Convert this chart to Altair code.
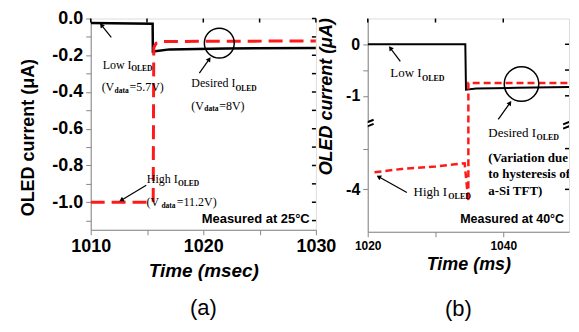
import altair as alt
import pandas as pd

# ---------------- data: panel (a) ----------------
a_black_t = [1010, 1015.5, 1015.52, 1017, 1022, 1030]
a_black_v = [-0.025, -0.028, -0.18, -0.168, -0.163, -0.16]
a_red_t = [1010, 1015.55, 1015.6, 1015.8, 1016.3, 1030]
a_red_v = [-1.0, -1.0, -0.16, -0.135, -0.125, -0.122]

a_xticks = [1010, 1015, 1020, 1025, 1030]
a_yticks = [0.0, -0.1, -0.2, -0.3, -0.4, -0.5, -0.6, -0.7, -0.8, -0.9, -1.0, -1.1]

a_main_txt = ["Low I", "(V", "=5.7V)", "Desired I", "(V", "=8V)", "High I", "(V", "=11.2V)"]
a_main_t = [1011.06, 1010.97, 1013.45, 1018.94, 1018.94, 1021.42, 1014.98, 1014.96, 1017.65]
a_main_v = [-0.255, -0.374, -0.374, -0.353, -0.474, -0.474, -0.872, -0.998, -0.998]
a_sub_txt = ["OLED", "data", "OLED", "data", "OLED", "data"]
a_sub_t = [1013.6, 1012.12, 1022.85, 1020.09, 1017.75, 1016.28]
a_sub_v = [-0.277, -0.396, -0.383, -0.494, -0.902, -1.02]

a_arrow_t = [1011.83, 1019.65, 1014.93]
a_arrow_v = [-0.103, -0.297, -0.9075]
a_arrow_t2 = [1010.95, 1020.53, 1012.72]
a_arrow_v2 = [-0.036, -0.221, -0.989]
a_arrow_ang = [321, 35, 239]

a_circle_t = [1021.42]
a_circle_v = [-0.134]
a_note = ["Measured at 25°C"]
a_note_t = [1029.45]
a_note_v = [-1.089]

# ---------------- data: panel (b) ----------------
b_black_t = [1020, 1034.4, 1034.5, 1036, 1042, 1049.7]
b_black_v = [0.0, 0.0, -0.88, -0.86, -0.845, -0.83]
b_red_t = [1021, 1025, 1030, 1034.3, 1034.85, 1034.85, 1049.7]
b_red_v = [-3.79, -3.75, -3.72, -3.68, -4.15, -0.75, -0.75]

b_xticks = [1020, 1030, 1040]
b_yticks = [0, -0.5, -1, -3.5, -4]

b_main_txt = ["Low I", "Desired I", "High I"]
b_main_t = [1023.34, 1037.79, 1026.76]
b_main_v = [-0.558, -3.306, -4.038]
b_sub_txt = ["OLED", "OLED", "OLED"]
b_sub_t = [1028.0, 1044.9, 1031.9]
b_sub_v = [-0.666, -3.367, -4.099]
b_bold_txt = ["(Variation due", "to hysteresis of", "a-Si TFT)"]
b_bold_t = [1037.79, 1037.79, 1037.79]
b_bold_v = [-3.611, -3.813, -4.017]

b_arrow_t = [1024.81, 1039.26, 1025.78]
b_arrow_v = [-0.332, -1.459, -4.038]
b_arrow_t2 = [1023.34, 1040.99, 1021.62]
b_arrow_v2 = [-0.074, -1.138, -3.846]
b_arrow_ang = [323, 35, 299]

b_circle_t = [1042.69]
b_circle_v = [-0.771]
b_note = ["Measured at 40°C"]
b_note_t = [1048.97]
b_note_v = [-4.359]
b_break_t = [1020, 1049.7]
b_break_v = [-2.3, -2.3]

SANS = "Liberation Sans"
SERIF = "Liberation Serif"
RED = "#ff1a1a"
BREAK_SHAPE = "M-1,0.05L1,-0.75M-1,0.75L1,-0.05"


def panel(W, H, xs, ys, xaxis, yaxis, black, red, red_dash, red_w, black_w,
          mains, subs, main_size, sub_size, arrows, circle, circ_size, note, note_size,
          xt, yt, extra=None, label=None, label_dx=0, label_off=20):
    X = lambda f: alt.X(f, type="quantitative", scale=xs, axis=xaxis)
    Y = lambda f: alt.Y(f, type="quantitative", scale=ys, axis=yaxis)
    layers = []
    base_df = pd.DataFrame({"t": black[0], "v": black[1]})
    layers.append(alt.Chart(base_df).mark_line(color="black", strokeWidth=black_w, clip=True).encode(
        x=X("t"), y=Y("v")))
    rdf = pd.DataFrame({"t": red[0], "v": red[1], "o": list(range(len(red[0])))})
    layers.append(alt.Chart(rdf).mark_line(color=RED, strokeWidth=red_w, strokeDash=red_dash, clip=True).encode(
        x=X("t"), y=Y("v"), order="o:Q"))
    mdf = pd.DataFrame({"txt": mains[0], "t": mains[1], "v": mains[2]})
    layers.append(alt.Chart(mdf).mark_text(font=SERIF, fontSize=main_size, align="left", baseline="middle",
                                           color="black").encode(x=X("t"), y=Y("v"), text="txt:N"))
    sdf = pd.DataFrame({"txt": subs[0], "t": subs[1], "v": subs[2]})
    layers.append(alt.Chart(sdf).mark_text(font=SERIF, fontSize=sub_size, fontWeight="bold", align="left",
                                           baseline="middle", color="black").encode(x=X("t"), y=Y("v"), text="txt:N"))
    adf = pd.DataFrame({"t": arrows[0], "v": arrows[1], "t2": arrows[2], "v2": arrows[3], "ang": arrows[4]})
    layers.append(alt.Chart(adf).mark_rule(color="black", strokeWidth=1.2).encode(
        x=X("t"), y=Y("v"), x2="t2:Q", y2="v2:Q"))
    layers.append(alt.Chart(adf).mark_point(shape="triangle-up", filled=True, size=28, color="black",
                                            opacity=1).encode(
        x=X("t2"), y=Y("v2"), angle=alt.Angle("ang:Q", scale=None)))
    cdf = pd.DataFrame({"t": circle[0], "v": circle[1]})
    layers.append(alt.Chart(cdf).mark_point(shape="circle", filled=False, size=circ_size, color="black",
                                            strokeWidth=1.5, opacity=1).encode(x=X("t"), y=Y("v")))
    ndf = pd.DataFrame({"txt": note[0], "t": note[1], "v": note[2]})
    layers.append(alt.Chart(ndf).mark_text(font=SANS, fontSize=note_size, fontWeight="bold", align="right",
                                           baseline="middle", color="black").encode(x=X("t"), y=Y("v"), text="txt:N"))
    # inward ticks on top and right frame
    tdf = pd.DataFrame({"t": xt})
    layers.append(alt.Chart(tdf).mark_rule(color="black", strokeWidth=1.5).encode(
        x=X("t"), y=alt.value(0), y2=alt.value(4)))
    ydf = pd.DataFrame({"v": yt})
    layers.append(alt.Chart(ydf).mark_rule(color="black", strokeWidth=1.5).encode(
        y=Y("v"), x=alt.value(W - 4), x2=alt.value(W)))
    if extra is not None:
        layers.extend(extra(X, Y))
    ch = alt.layer(*layers).properties(width=W, height=H)
    if label is not None:
        ch = ch.properties(title=alt.TitleParams(label, orient="bottom", font=SANS, fontSize=22,
                                                 fontWeight="normal", frame="group", anchor="middle",
                                                 offset=label_off, dx=label_dx))
    return ch


# ---------- panel (a) ----------
xa = alt.Scale(domain=[1010, 1030], nice=False, zero=False)
ya = alt.Scale(domain=[-1.15, 0.0], nice=False, zero=False)
xa_axis = alt.Axis(values=a_xticks, format="d", title="Time (msec)", titleFont=SANS, titleFontSize=19,
                   titleFontWeight="bold", titleFontStyle="italic", titlePadding=6,
                   labelFont=SANS, labelFontSize=18, labelFontWeight="bold", labelPadding=3,
                   labelExpr="datum.value % 10 == 0 ? datum.label : ''", grid=False,
                   labelFlush=False)
ya_axis = alt.Axis(values=a_yticks, title="OLED current (μA)", titleFont=SANS, titleFontSize=18,
                   titleFontWeight="bold", titlePadding=14, titleY=119,
                   labelFont=SANS, labelFontSize=18, labelFontWeight="bold", labelPadding=3,
                   labelExpr="abs(round(datum.value*10)) % 2 == 0 ? replace(format(datum.value, '.1f'), '−', '-') : ''",
                   grid=False, labelFlush=False)
left = panel(226, 212, xa, ya, xa_axis, ya_axis,
             (a_black_t, a_black_v), (a_red_t, a_red_v), [14, 7], 3, 2.5,
             (a_main_txt, a_main_t, a_main_v), (a_sub_txt, a_sub_t, a_sub_v), 12, 7.5,
             (a_arrow_t, a_arrow_v, a_arrow_t2, a_arrow_v2, a_arrow_ang),
             (a_circle_t, a_circle_v), 900, (a_note, a_note_t, a_note_v), 13,
             a_xticks, a_yticks, label="(a)", label_off=18)

# ---------- panel (b) ----------
xb = alt.Scale(domain=[1020, 1049.7], nice=False, zero=False)
yb = alt.Scale(domain=[-4.52, -3.2, -1.55, 0.5], range=[214, 106, 106, 0], nice=False, zero=False)
xb_axis = alt.Axis(values=b_xticks, format="d", title="Time (ms)", titleFont=SANS, titleFontSize=18,
                   titleFontWeight="bold", titleFontStyle="italic", titlePadding=4,
                   labelFont=SANS, labelFontSize=12, labelFontWeight="bold", labelPadding=4,
                   labelExpr="datum.value == 1020 || datum.value == 1040 ? datum.label : ''", grid=False,
                   labelFlush=False)
yb_axis = alt.Axis(values=b_yticks, title="OLED current (μA)", titleFont=SANS, titleFontSize=18,
                   titleFontWeight="bold", titleFontStyle="italic", titlePadding=10, titleY=78,
                   labelFont=SANS, labelFontSize=16, labelFontWeight="bold", labelPadding=3,
                   labelExpr="datum.value == 0 || datum.value == -1 || datum.value == -4 ? replace(format(datum.value, 'd'), '−', '-') : ''",
                   grid=False, labelFlush=False)


def b_extra(X, Y):
    bdf = pd.DataFrame({"t": b_bold_t, "v": b_bold_v, "txt": b_bold_txt})
    brk = pd.DataFrame({"t": b_break_t, "v": b_break_v})
    return [
        alt.Chart(bdf).mark_text(font=SERIF, fontSize=13, fontWeight="bold", align="left", baseline="middle",
                                 color="black", clip=True).encode(x=X("t"), y=Y("v"), text="txt:N"),
        alt.Chart(brk).mark_point(shape="square", filled=True, color="white", size=30, opacity=1,
                                  clip=True).encode(x=X("t"), y=Y("v")),
        alt.Chart(brk).mark_point(shape=BREAK_SHAPE, filled=False, color="black", strokeWidth=2, size=140,
                                  opacity=1, clip=True).encode(x=X("t"), y=Y("v")),
    ]


right = panel(202, 214, xb, yb, xb_axis, yb_axis,
              (b_black_t, b_black_v), (b_red_t, b_red_v), [7, 4], 2.5, 2,
              (b_main_txt, b_main_t, b_main_v), (b_sub_txt, b_sub_t, b_sub_v), 13, 8,
              (b_arrow_t, b_arrow_v, b_arrow_t2, b_arrow_v2, b_arrow_ang),
              (b_circle_t, b_circle_v), 1200, (b_note, b_note_t, b_note_v), 12.5,
              b_xticks, b_yticks, extra=b_extra, label="(b)", label_dx=-10, label_off=26)

chart = alt.hconcat(left, right, spacing=52, bounds="flush").properties(
    padding={"left": 11, "top": 0, "right": 0, "bottom": 0}
).configure_view(stroke="black", strokeWidth=2).configure_axis(
    domainColor="black", domainWidth=2, tickColor="black", tickWidth=1.5, tickSize=4,
    labelColor="black", titleColor="black"
).configure(background="white")

chart.save("out.html", embed_options={"renderer": "svg", "actions": False})
